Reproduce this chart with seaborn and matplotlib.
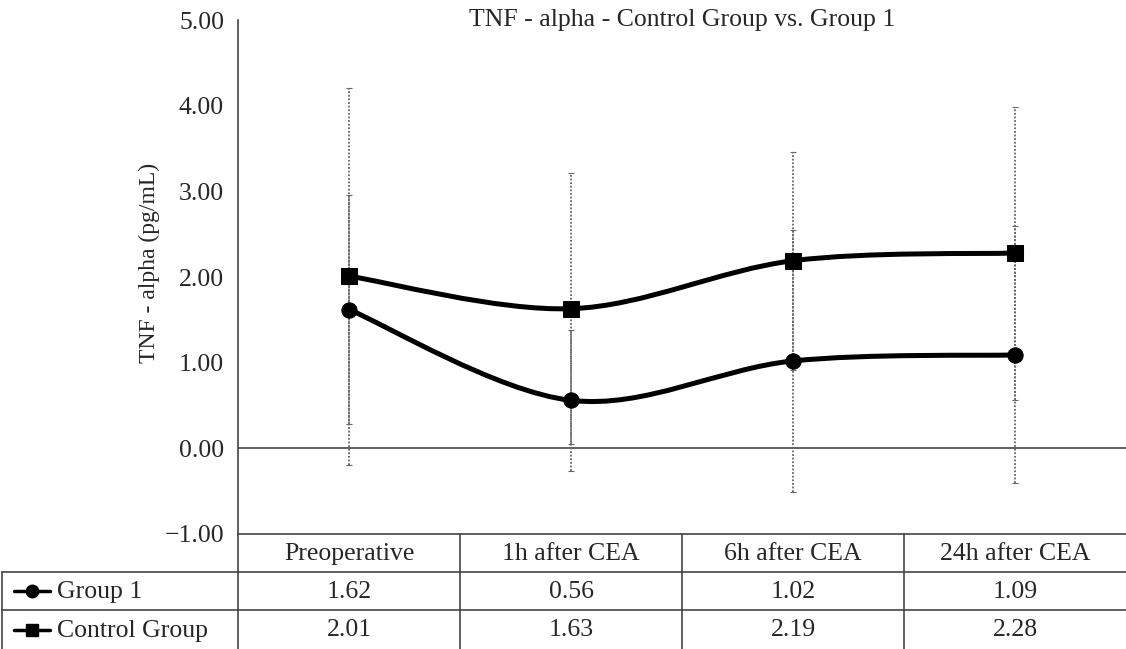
import numpy as np
import pandas as pd
import matplotlib
matplotlib.use("Agg")
import matplotlib.pyplot as plt
from matplotlib.path import Path
from matplotlib.patches import PathPatch
from matplotlib.lines import Line2D
import seaborn as sns

# --- data ---
timepoints = ["Preoperative", "1h after CEA", "6h after CEA", "24h after CEA"]
group1_mean = [1.62, 0.56, 1.02, 1.09]
group1_sd = [1.34, 0.82, 1.53, 1.50]
control_mean = [2.01, 1.63, 2.19, 2.28]
control_sd = [2.20, 1.58, 1.27, 1.71]
series_names = ["Group 1", "Control Group"]
series_markers = ["o", "s"]
yticks = [-1.0, 0.0, 1.0, 2.0, 3.0, 4.0, 5.0]

sns.set_theme(style="white")
plt.rcParams["font.family"] = ["Liberation Serif", "DejaVu Serif"]

W, H = 1126, 649
fig = plt.figure(figsize=(W / 100, H / 100), dpi=100)
ax = fig.add_axes([238 / W, 1 - 534 / H, (W - 238) / W, (534 - 20) / H])

df = pd.DataFrame({
    "time": timepoints * 2,
    "value": group1_mean + control_mean,
    "sd": group1_sd + control_sd,
    "series": ["Group 1"] * 4 + ["Control Group"] * 4,
})
df["pos"] = df["time"].map({t: i for i, t in enumerate(timepoints)})

# error bars (dotted grey, behind the lines)
for name in series_names:
    sub = df[df["series"] == name]
    eb = ax.errorbar(sub["pos"], sub["value"], yerr=sub["sd"], fmt="none",
                     ecolor="#666666", elinewidth=1.3,
                     capsize=2.5, capthick=0.8, zorder=2)
    for coll in eb[2]:
        coll.set_linestyle((0, (1, 1)))

# smoothed lines (cardinal bezier through the data points)
def smooth_path(xs, ys):
    pts = np.column_stack([xs, ys]).astype(float)
    verts = [pts[0]]
    codes = [Path.MOVETO]
    n = len(pts)
    for i in range(n - 1):
        p0 = pts[max(i - 1, 0)]
        p1 = pts[i]
        p2 = pts[i + 1]
        p3 = pts[min(i + 2, n - 1)]
        c1 = p1 + (p2 - p0) / 6.0
        c2 = p2 - (p3 - p1) / 6.0
        verts += [c1, c2, p2]
        codes += [Path.CURVE4] * 3
    return Path(verts, codes)

for name in series_names:
    sub = df[df["series"] == name]
    patch = PathPatch(smooth_path(sub["pos"].values, sub["value"].values),
                      fill=False, edgecolor="black", lw=3.6, zorder=3,
                      capstyle="round", joinstyle="round")
    ax.add_patch(patch)

sns.lineplot(data=df, x="pos", y="value", hue="series", style="series",
             markers=dict(zip(series_names, series_markers)), dashes=False,
             palette={n: "black" for n in series_names}, linewidth=0,
             markersize=11, markeredgecolor="black", legend=False, ax=ax, zorder=4)

ax.axhline(0, color="#444444", lw=1.2, zorder=1)
ax.set_xlim(-0.5, 3.5)
ax.set_ylim(-1, 5)
ax.set_yticks(yticks)
ax.set_yticklabels([f"{v:.2f}".replace("-", "\u2212") for v in yticks], fontsize=18.5)
ax.set_xticks([])
ax.set_xlabel("")
ax.set_ylabel("TNF - alpha (pg/mL)", fontsize=17)
ax.yaxis.set_label_coords(-0.088, 0.527)
ax.tick_params(axis="y", length=0, pad=10)
for s in ["top", "right"]:
    ax.spines[s].set_visible(False)
for s in ["left", "bottom"]:
    ax.spines[s].set_color("#444444")
    ax.spines[s].set_linewidth(1.2)

ax.text(0.5, 1.0, "TNF - alpha - Control Group vs. Group 1", transform=ax.transAxes,
        ha="center", va="center", fontsize=18.5)

# --- data table below the axes ---
def fx(px):
    return px / W

def fy(py):
    return 1 - py / H

col_edges = [238, 460, 682, 904, 1126]
row_edges = [534, 572, 610, 649]
lc = "#444444"

for x in col_edges[:-1]:
    fig.add_artist(Line2D([fx(x), fx(x)], [fy(534), fy(649)], color=lc, lw=1.2))
fig.add_artist(Line2D([fx(2), fx(2)], [fy(572), fy(649)], color=lc, lw=1.2))
for y in [572, 610]:
    fig.add_artist(Line2D([fx(2), fx(W)], [fy(y), fy(y)], color=lc, lw=1.2))

for i, t in enumerate(timepoints):
    cx = (col_edges[i] + col_edges[i + 1]) / 2
    fig.text(fx(cx), fy((534 + 572) / 2 + 1), t, ha="center", va="center", fontsize=18.5)

row_values = [group1_mean, control_mean]
for r, name in enumerate(series_names):
    cy = (row_edges[r + 1] + row_edges[r + 2]) / 2
    fig.add_artist(Line2D([fx(14), fx(50)], [fy(cy), fy(cy)], color="black", lw=2.5))
    fig.add_artist(Line2D([fx(32)], [fy(cy)], marker=series_markers[r], color="black",
                          markersize=9, lw=0))
    fig.text(fx(57), fy(cy + 1), name, ha="left", va="center", fontsize=18.5)
    for i, v in enumerate(row_values[r]):
        cx = (col_edges[i] + col_edges[i + 1]) / 2
        fig.text(fx(cx), fy(cy + 1), f"{v:.2f}", ha="center", va="center", fontsize=18.5)

fig.savefig("out.png", dpi=100)
